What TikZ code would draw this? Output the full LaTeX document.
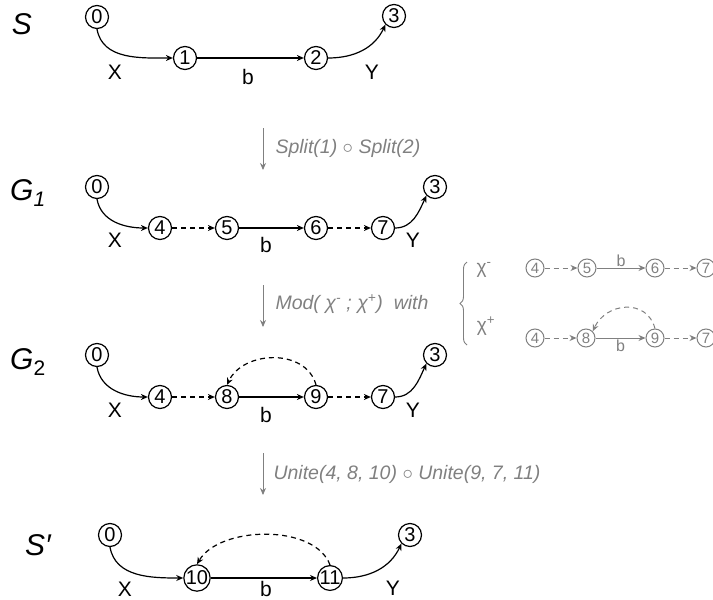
\documentclass[tikz,border=0pt]{standalone}
\usepackage{fontspec}
\setmainfont{Liberation Sans}
\usetikzlibrary{decorations.pathreplacing,arrows.meta}
\definecolor{opgray}{RGB}{128,128,128}
\newcommand{\fsz}[1]{\fontsize{#1}{#1}\selectfont}
\begin{document}
\begin{tikzpicture}[x=1pt,y=-1pt,>={Stealth[length=7pt,width=6pt]},
    st/.style={circle,draw,line width=1.2pt,inner sep=0pt,minimum size=23pt,font=\fsz{20}},
    sst/.style={circle,draw=opgray,text=opgray,line width=1pt,inner sep=0pt,minimum size=18pt,font=\fsz{15}},
    lab/.style={font=\fsz{21}},
    slab/.style={font=\fsz{16},text=opgray},
    ttl/.style={font=\fsz{30}\itshape},
    dsh/.style={dash pattern=on 5pt off 4pt},
    ed/.style={->,line width=1.2pt},
    sed/.style={->,line width=1pt,opgray},
    op/.style={font=\fsz{19.5}\itshape,text=opgray,anchor=west}]
  \useasboundingbox (0,0) rectangle (713,600);

  % S
  \node[ttl] (tS) at (22,24) {S};
  \node[st] (s0) at (97,17) {0};
  \node[st] (s1) at (185,58) {1};
  \node[st] (s2) at (316,58) {2};
  \node[st] (s3) at (394,16) {3};
  \draw[ed] (s0.south) to[out=-80,in=180] (s1.west);
  \draw[ed] (s1) -- (s2);
  \draw[ed] (s2.east) to[out=0,in=-115] (s3.south west);
  \node[lab] (sX) at (115,72) {X};
  \node[lab] (sb) at (248,77) {b};
  \node[lab] (sY) at (372,72) {Y};

  % Split
  \coordinate (a1s) at (263,128);
  \coordinate (a1e) at (263,170);
  \draw[->,opgray,line width=0.9pt] (a1s) -- (a1e);
  \node[op] (o1) at (272,148) {Split(1) {\upshape$\circ$} Split(2)};

  % G1
  \node[ttl] (tG1) at (28,193) {G\textsubscript{1}};
  \node[st] (g0) at (97,187) {0};
  \node[st] (g4) at (160,228) {4};
  \node[st] (g5) at (227,228) {5};
  \node[st] (g6) at (316,228) {6};
  \node[st] (g7) at (383,228) {7};
  \node[st] (g3) at (435,187) {3};
  \draw[ed] (g0.south) to[out=-80,in=180] (g4.west);
  \draw[ed,dsh] (g4) -- (g5);
  \draw[ed] (g5) -- (g6);
  \draw[ed,dsh] (g6) -- (g7);
  \draw[ed] (g7.east) to[out=0,in=-115] (g3.south west);
  \node[lab] (gX) at (115,240) {X};
  \node[lab] (gb) at (266,245) {b};
  \node[lab] (gY) at (413,240) {Y};

  % Mod
  \coordinate (a2s) at (263,285);
  \coordinate (a2e) at (263,327);
  \draw[->,opgray,line width=0.9pt] (a2s) -- (a2e);
  \node[op] (o2) at (272,304) {Mod( χ\textsuperscript{-} ; χ\textsuperscript{+})\ \ with};
  \coordinate (brb) at (467,345);
  \coordinate (brt) at (467,262);
  \draw[opgray,line width=0.9pt,decorate,decoration={brace,amplitude=7pt}] (brb) -- (brt);
  \node[slab,font=\fsz{19}] (chm) at (484,270) {χ\textsuperscript{-}};
  \node[slab,font=\fsz{19}] (chp) at (486,326) {χ\textsuperscript{+}};
  \node[sst] (m4) at (535,268) {4};
  \node[sst] (m5) at (587,268) {5};
  \node[sst] (m6) at (655,268) {6};
  \node[sst] (m7) at (706,268) {7};
  \draw[sed,dsh] (m4) -- (m5);
  \draw[sed] (m5) -- node[slab,above=-2pt] {b} (m6);
  \draw[sed,dsh] (m6) -- (m7);
  \node[sst] (p4) at (535,338) {4};
  \node[sst] (p8) at (586,338) {8};
  \node[sst] (p9) at (655,338) {9};
  \node[sst] (p7) at (706,338) {7};
  \draw[sed,dsh] (p4) -- (p8);
  \draw[sed] (p8) -- node[slab,below=-2pt] {b} (p9);
  \draw[sed,dsh] (p9) -- (p7);
  \draw[sed,dsh] (p9.north) to[out=105,in=65,looseness=1.3] (p8.north east);

  % G2
  \node[ttl] (tG2) at (28,362) {G\textsubscript{\upshape 2}};
  \node[st] (h0) at (97,355) {0};
  \node[st] (h4) at (160,397) {4};
  \node[st] (h8) at (227,397) {8};
  \node[st] (h9) at (316,397) {9};
  \node[st] (h7) at (383,397) {7};
  \node[st] (h3) at (435,355) {3};
  \draw[ed] (h0.south) to[out=-80,in=180] (h4.west);
  \draw[ed,dsh] (h4) -- (h8);
  \draw[ed] (h8) -- (h9);
  \draw[ed,dsh] (h9) -- (h7);
  \draw[ed] (h7.east) to[out=0,in=-115] (h3.south west);
  \draw[ed,dsh] (h9.north) to[out=105,in=65,looseness=1.1] (h8.north);
  \node[lab] (hX) at (115,410) {X};
  \node[lab] (hb) at (266,415) {b};
  \node[lab] (hY) at (413,410) {Y};

  % Unite
  \coordinate (a3s) at (263,453);
  \coordinate (a3e) at (263,495);
  \draw[->,opgray,line width=0.9pt] (a3s) -- (a3e);
  \node[op] (o3) at (270,474) {Unite(4, 8, 10) {\upshape$\circ$} Unite(9, 7, 11)};

  % S'
  \node[ttl] (tS2) at (38,545) {S′};
  \node[st] (r0) at (110,535) {0};
  \node[st] (r10) at (197,578) {10};
  \node[st] (r11) at (330,578) {11};
  \node[st] (r3) at (410,535) {3};
  \draw[ed] (r0.south) to[out=-80,in=180] (r10.west);
  \draw[ed] (r10) -- (r11);
  \draw[ed] (r11.east) to[out=0,in=-115] (r3.south west);
  \draw[ed,dsh] (r11.north) to[out=110,in=60,looseness=0.85] (r10.north);
  \node[lab] (rX) at (125,589) {X};
  \node[lab] (rb) at (266,589) {b};
  \node[lab] (rY) at (393,588) {Y};
\end{tikzpicture}
\end{document}
